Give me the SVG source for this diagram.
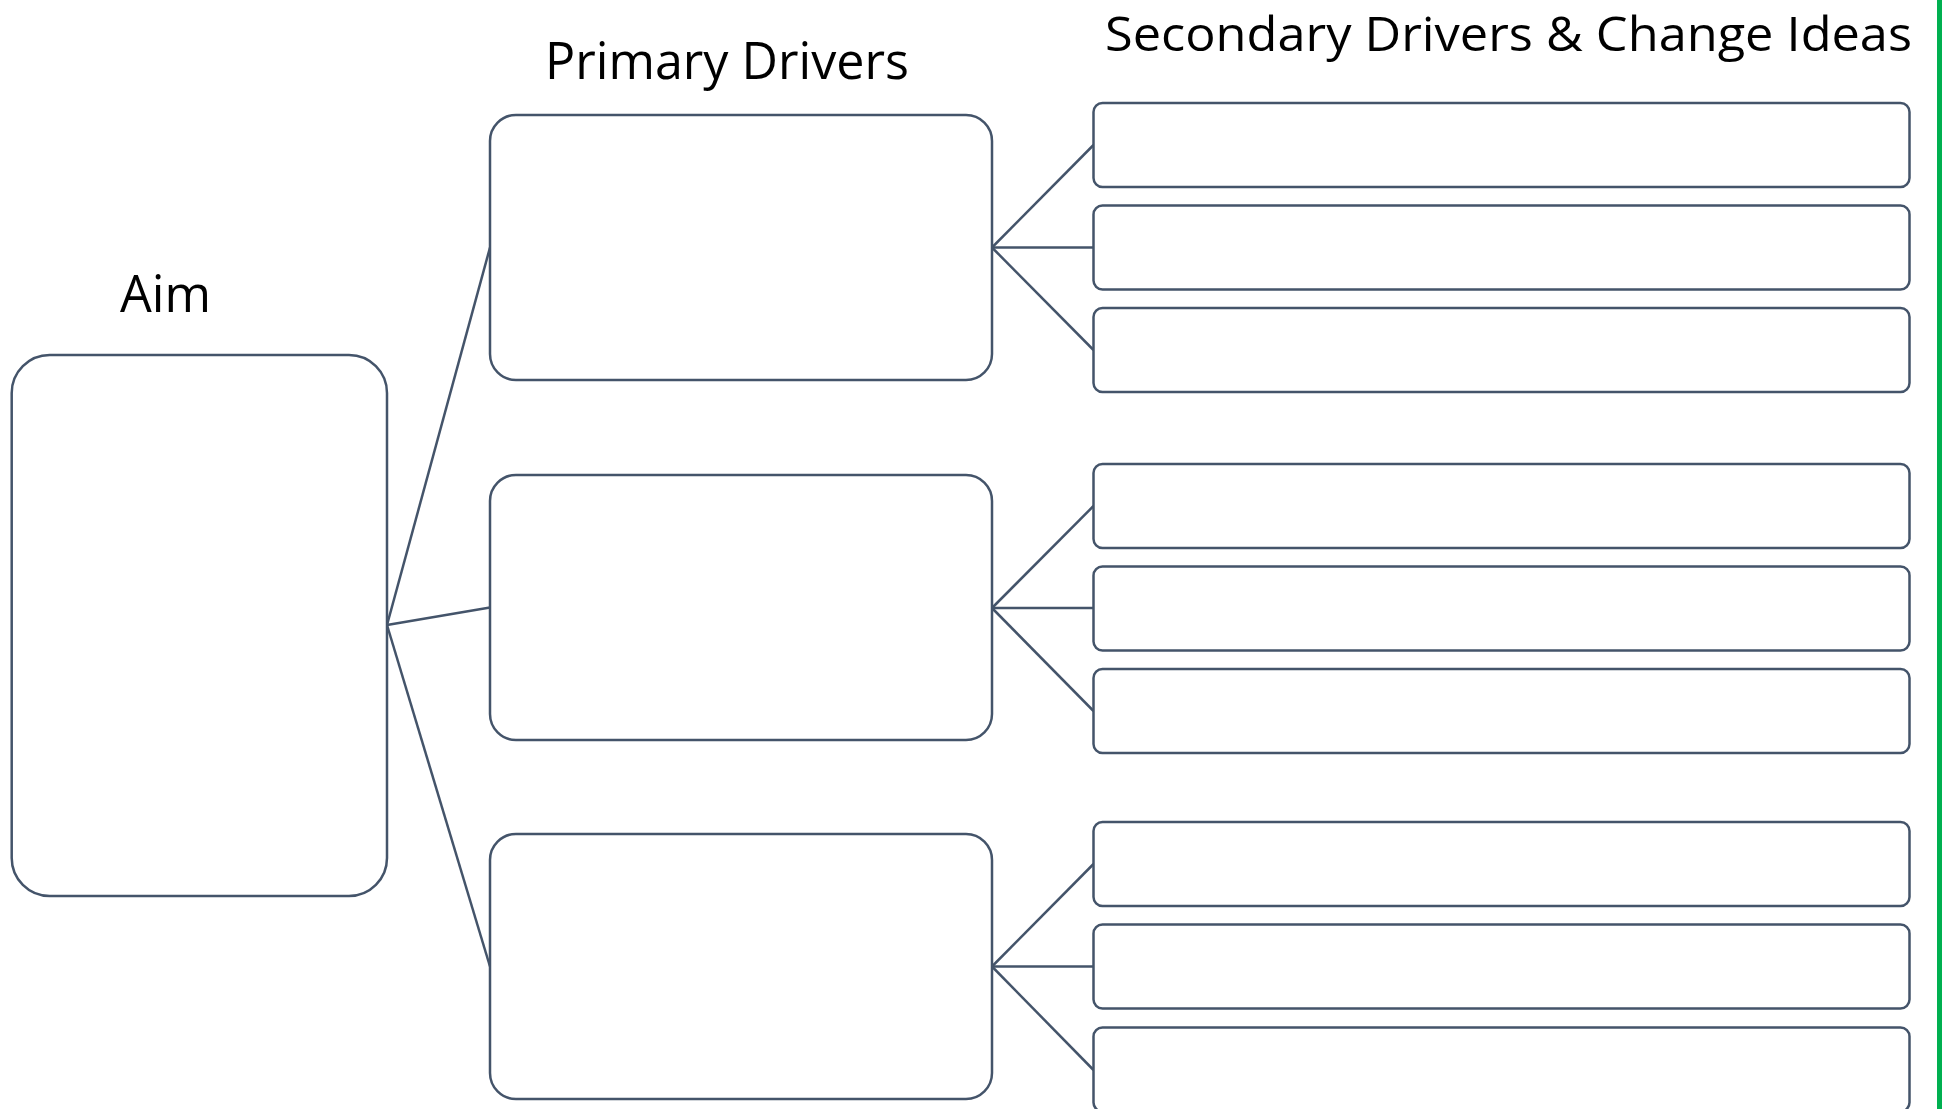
<svg xmlns="http://www.w3.org/2000/svg" width="1942" height="1109" viewBox="0 0 1942 1109">
<style>
.box{fill:#ffffff;stroke:#44546a;stroke-width:2.5}
.con{stroke:#44546a;stroke-width:2.5;fill:none}
.hdr{font-family:"Open Sans","Noto Sans","Liberation Sans",sans-serif;font-size:52px;fill:#000000}
</style>
<rect x="0" y="0" width="1942" height="1109" fill="#ffffff"/>
<rect x="1937" y="0" width="5" height="1109" fill="#00b050"/>
<g id="headers">
<text class="hdr" x="120" y="312" textLength="91" lengthAdjust="spacingAndGlyphs">Aim</text>
<text class="hdr" x="545" y="79" textLength="364" lengthAdjust="spacingAndGlyphs">Primary Drivers</text>
<text class="hdr" x="1105" y="51" font-size="48" style="font-size:48px" textLength="807" lengthAdjust="spacingAndGlyphs">Secondary Drivers &amp; Change Ideas</text>
</g>
<g id="connectors">
<line class="con" x1="387" y1="625" x2="490" y2="247.5"/>
<line class="con" x1="387" y1="625" x2="490" y2="607.5"/>
<line class="con" x1="387" y1="625" x2="490" y2="966.5"/>
<line class="con" x1="992" y1="247.5" x2="1093.5" y2="145"/>
<line class="con" x1="992" y1="247.5" x2="1093.5" y2="247.5"/>
<line class="con" x1="992" y1="247.5" x2="1093.5" y2="350"/>
<line class="con" x1="992" y1="608" x2="1093.5" y2="506"/>
<line class="con" x1="992" y1="608" x2="1093.5" y2="608"/>
<line class="con" x1="992" y1="608" x2="1093.5" y2="711"/>
<line class="con" x1="992" y1="966.5" x2="1093.5" y2="864"/>
<line class="con" x1="992" y1="966.5" x2="1093.5" y2="966.5"/>
<line class="con" x1="992" y1="966.5" x2="1093.5" y2="1070"/>
</g>
<g id="aim"><rect class="box" x="11.7" y="355" width="375.3" height="541" rx="38" ry="38"/></g>
<g id="primary1"><rect class="box" x="490" y="115" width="502" height="265" rx="26" ry="26"/></g>
<g id="primary2"><rect class="box" x="490" y="475" width="502" height="265" rx="26" ry="26"/></g>
<g id="primary3"><rect class="box" x="490" y="834" width="502" height="265" rx="26" ry="26"/></g>
<g id="secondary1a"><rect class="box" x="1093.5" y="103" width="816" height="84" rx="9" ry="9"/></g>
<g id="secondary1b"><rect class="box" x="1093.5" y="205.5" width="816" height="84" rx="9" ry="9"/></g>
<g id="secondary1c"><rect class="box" x="1093.5" y="308" width="816" height="84" rx="9" ry="9"/></g>
<g id="secondary2a"><rect class="box" x="1093.5" y="464" width="816" height="84" rx="9" ry="9"/></g>
<g id="secondary2b"><rect class="box" x="1093.5" y="566.5" width="816" height="84" rx="9" ry="9"/></g>
<g id="secondary2c"><rect class="box" x="1093.5" y="669" width="816" height="84" rx="9" ry="9"/></g>
<g id="secondary3a"><rect class="box" x="1093.5" y="822" width="816" height="84" rx="9" ry="9"/></g>
<g id="secondary3b"><rect class="box" x="1093.5" y="924.5" width="816" height="84" rx="9" ry="9"/></g>
<g id="secondary3c"><rect class="box" x="1093.5" y="1027.5" width="816" height="84" rx="9" ry="9"/></g>
</svg>
